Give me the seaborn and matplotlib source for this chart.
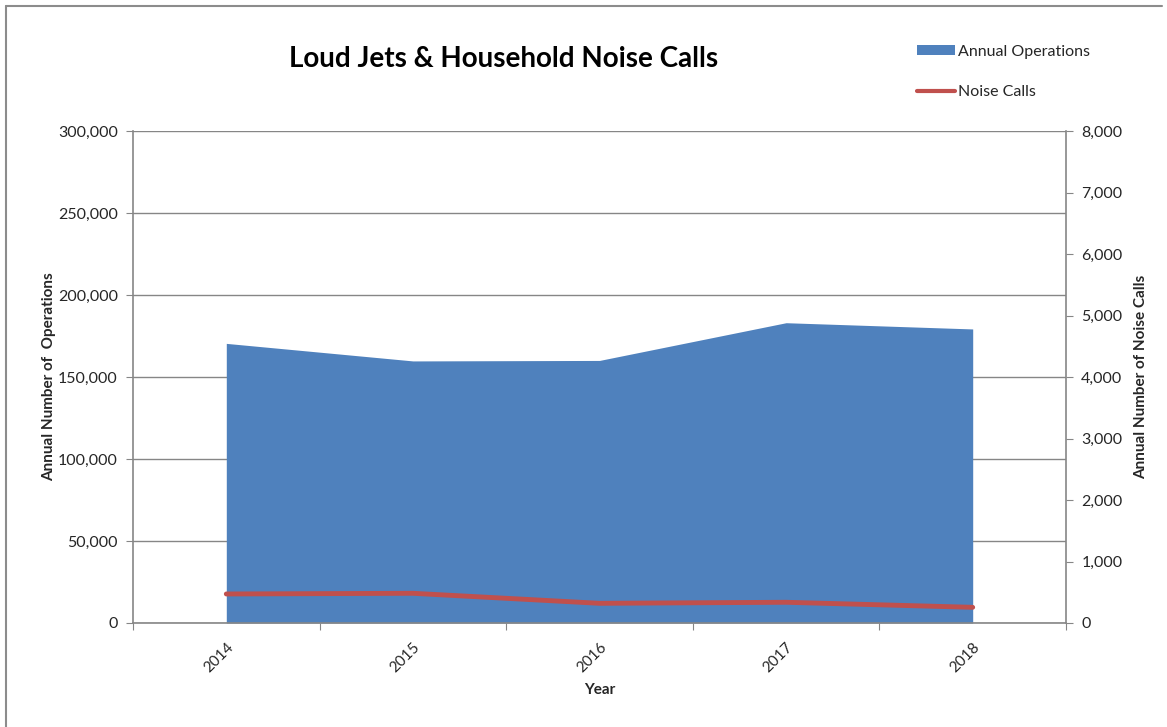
import numpy as np
import pandas as pd
import seaborn as sns
import matplotlib.pyplot as plt
from matplotlib.lines import Line2D
from matplotlib.patches import Patch
from matplotlib.ticker import FuncFormatter, FixedLocator

years = ['2014', '2015', '2016', '2017', '2018']
operations = [170500, 159800, 160100, 183100, 179300]
noise_calls = [472, 483, 320, 337, 255]

BLUE = '#4F81BD'
RED = '#C0504D'
GRID = '#868686'
TEXT = '#262626'

sns.set_style('white')
plt.rcParams['font.family'] = ['Lato', 'DejaVu Sans']

df = pd.DataFrame({'year': years, 'pos': range(len(years)),
                   'operations': operations, 'noise_calls': noise_calls})

fig = plt.figure(figsize=(11.67, 7.27), dpi=100)
ax = fig.add_axes([133 / 1167, 1 - 623 / 727, (1066 - 133) / 1167, (623 - 131) / 727])

# area for annual operations
ax.fill_between(df['pos'], 0, df['operations'], color=BLUE, linewidth=0, zorder=2)
ax.set_ylim(0, 300000)
ax.set_xlim(-0.5, len(years) - 0.5)
ax.set_yticks(np.arange(0, 300001, 50000))
ax.yaxis.set_major_formatter(FuncFormatter(lambda v, p: f'{int(v):,}'))
ax.grid(axis='y', color=GRID, linewidth=1, zorder=1)
ax.set_axisbelow(True)

# x ticks at category boundaries, labels at centres
ax.xaxis.set_major_locator(FixedLocator(np.arange(-0.5, len(years), 1.0)))
ax.xaxis.set_major_formatter(FuncFormatter(lambda v, p: ''))
ax.xaxis.set_minor_locator(FixedLocator(df['pos']))
ax.set_xticklabels(years, minor=True, rotation=45, ha='right', rotation_mode='anchor')
ax.tick_params(axis='x', which='major', direction='out', length=5, color=GRID, bottom=True)
ax.tick_params(axis='x', which='minor', length=0, pad=12, labelsize=11, labelcolor=TEXT)
ax.tick_params(axis='y', direction='out', length=5, color=GRID, left=True, labelsize=11.5,
               labelcolor=TEXT, pad=6)

for side in ['top', 'right']:
    ax.spines[side].set_visible(False)
for side in ['left', 'bottom']:
    ax.spines[side].set_color(GRID)
    ax.spines[side].set_linewidth(1.2)

ax.set_xlabel('Year', fontsize=11, fontweight='bold', labelpad=6)
ax.set_ylabel('Annual Number of  Operations', fontsize=11, fontweight='bold', labelpad=1)

# noise calls on secondary axis
ax2 = ax.twinx()
sns.lineplot(data=df, x='pos', y='noise_calls', ax=ax2, color=RED, linewidth=3.5, zorder=3)
ax2.set_ylim(0, 8000)
ax2.set_xlim(-0.5, len(years) - 0.5)
ax2.set_yticks(np.arange(0, 8001, 1000))
ax2.yaxis.set_major_formatter(FuncFormatter(lambda v, p: f'{int(v):,}'))
ax2.tick_params(axis='y', direction='out', length=5, color=GRID, right=True, labelsize=11.5,
                labelcolor=TEXT, pad=6)
for side in ['top', 'left', 'bottom']:
    ax2.spines[side].set_visible(False)
ax2.spines['right'].set_color(GRID)
ax2.spines['right'].set_linewidth(1.2)
ax2.set_xlabel('')
ax2.set_ylabel('Annual Number of Noise Calls', fontsize=11, fontweight='bold', labelpad=8)

fig.text(504 / 1167, 1 - 59 / 727, 'Loud Jets & Household Noise Calls', ha='center', va='center',
         fontsize=20, fontweight='bold', color='black')

handles = [Patch(facecolor=BLUE, edgecolor='none'),
           Line2D([0], [0], color=RED, linewidth=3)]
fig.legend(handles, ['Annual Operations', 'Noise Calls'], loc='upper left',
           bbox_to_anchor=(917 / 1167, 1 - 45 / 727), frameon=False, fontsize=11.5,
           handlelength=2.4, handleheight=0.6, handletextpad=0.15, labelspacing=1.65,
           borderpad=0, borderaxespad=0)

# chart area border (top and left only visible)
fig.add_artist(Line2D([6 / 1167, 1162 / 1167], [1 - 6 / 727, 1 - 6 / 727],
                      transform=fig.transFigure, color='#8C8C8C', linewidth=1.5))
fig.add_artist(Line2D([6 / 1167, 6 / 1167], [1 - 6 / 727, 0],
                      transform=fig.transFigure, color='#8C8C8C', linewidth=1.5))

fig.savefig('out.png', dpi=100, facecolor='white')
